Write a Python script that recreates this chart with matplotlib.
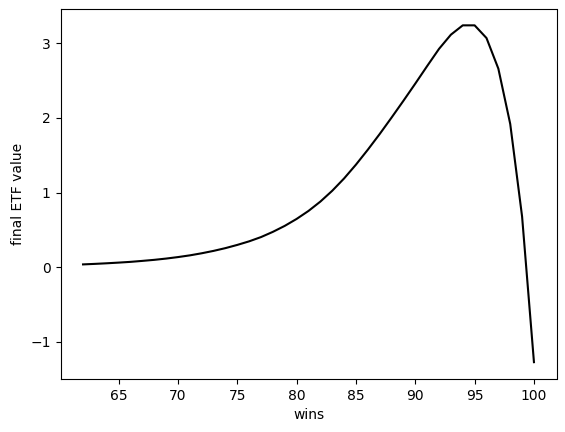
import matplotlib
matplotlib.use('Agg')
import matplotlib.pyplot as plt
import numpy as np

wins = np.arange(62, 101)
etf = [0.039, 0.046, 0.054, 0.063, 0.073, 0.086, 0.100, 0.117, 0.137, 0.160,
       0.188, 0.220, 0.257, 0.300, 0.348, 0.405, 0.475, 0.555, 0.648, 0.755,
       0.880, 1.025, 1.190, 1.375, 1.575, 1.785, 2.005, 2.230, 2.460, 2.695,
       2.925, 3.115, 3.240, 3.240, 3.070, 2.660, 1.920, 0.680, -1.270]

fig = plt.figure(figsize=(5.65, 4.32), dpi=100)
ax = fig.add_subplot(111)
fig.subplots_adjust(left=60.5/565, right=556.5/565, top=1-8.5/432, bottom=1-379/432)
ax.plot(wins, etf, color='black')
ax.set_xlabel('wins')
ax.set_ylabel('final ETF value')
fig.savefig('out.png', dpi=100)
